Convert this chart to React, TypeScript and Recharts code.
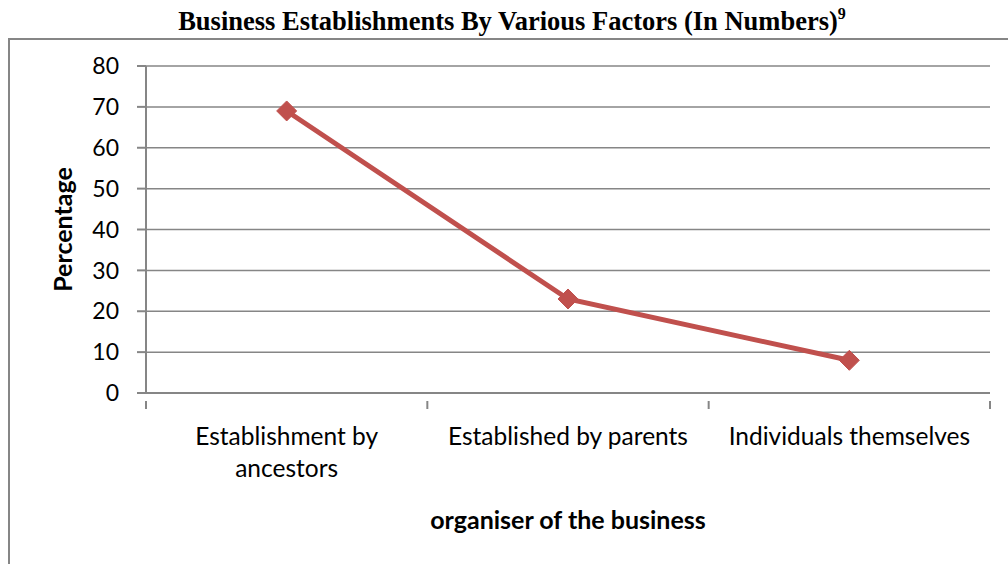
import React from 'react';
import { LineChart, Line, XAxis, YAxis, CartesianGrid } from 'recharts';

const categories = ['Establishment by ancestors', 'Established by parents', 'Individuals themselves'];
const tickLines = [['Establishment by', 'ancestors'], ['Established by parents'], ['Individuals themselves']];
const percentages = [69, 23, 8];
const yTicks = [0, 10, 20, 30, 40, 50, 60, 70, 80];

const data = categories.map((category, i) => ({ category, value: percentages[i] }));

const FONT = 'Lato, "Open Sans", sans-serif';
const AXIS = '#868686';
const RED = '#C0504D';

const Diamond = (props: any) => {
  const { cx, cy } = props;
  if (cx == null || cy == null) return null;
  const r = 10;
  return (
    <polygon
      points={`${cx},${cy - r} ${cx + r},${cy} ${cx},${cy + r} ${cx - r},${cy}`}
      fill={RED}
      stroke={RED}
      strokeWidth={1}
    />
  );
};

const XTick = (props: any) => {
  const { x, y, payload, index } = props;
  const half = payload.offset || 0;
  const lines = tickLines[index] || [payload.value];
  const last = index === categories.length - 1;
  return (
    <g>
      <line x1={x - half} x2={x - half} y1={y} y2={y + 8} stroke={AXIS} strokeWidth={2} />
      {last && <line x1={x + half} x2={x + half} y1={y} y2={y + 8} stroke={AXIS} strokeWidth={2} />}
      <text x={x} y={y + 44} textAnchor="middle" fill="#000" fontSize={24.5} fontFamily={FONT}>
        {lines.map((t, i) => (
          <tspan key={i} x={x} dy={i === 0 ? 0 : 32}>
            {t}
          </tspan>
        ))}
      </text>
    </g>
  );
};

const YLabel = (props: any) => {
  const { viewBox } = props;
  const cy = viewBox.y + viewBox.height / 2;
  const cx = 62;
  return (
    <text
      x={cx}
      y={cy}
      transform={`rotate(-90, ${cx}, ${cy})`}
      textAnchor="middle"
      dominantBaseline="central"
      fontSize={25}
      fontWeight="bold"
      fontFamily={FONT}
      fill="#000"
    >
      Percentage
    </text>
  );
};

export default function App() {
  return (
    <div style={{ position: 'absolute', left: 0, top: 0, width: 1008, height: 564, background: '#fff' }}>
      <div
        style={{
          position: 'absolute',
          left: 0,
          right: 0,
          top: 5,
          textAlign: 'center',
          fontFamily: '"Liberation Serif", "Times New Roman", serif',
          fontWeight: 'bold',
          fontSize: 26.5,
          lineHeight: '32px',
          color: '#000',
          whiteSpace: 'nowrap',
        }}
      >
        <span style={{ position: 'relative', left: 8 }}>
          Business Establishments By Various Factors (In Numbers)
          <sup style={{ fontSize: 16, verticalAlign: 'top', position: 'relative', top: -7 }}>9</sup>
        </span>
      </div>
      <div
        style={{
          position: 'absolute',
          left: 8,
          top: 38,
          width: 1000,
          height: 526,
          borderLeft: `2px solid ${AXIS}`,
          borderTop: `2px solid ${AXIS}`,
          boxSizing: 'border-box',
        }}
      />
      <div style={{ position: 'absolute', left: 0, top: 0 }}>
        <LineChart width={1008} height={564} data={data} margin={{ top: 66, right: 18, left: 20, bottom: 0 }}>
          <CartesianGrid vertical={false} stroke={AXIS} strokeWidth={1.5} />
          <XAxis
            dataKey="category"
            scale="band"
            height={171}
            stroke={AXIS}
            strokeWidth={2}
            tickLine={false}
            tick={<XTick />}
            interval={0}
            label={{
              value: 'organiser of the business',
              position: 'insideBottom',
              offset: 35,
              fill: '#000',
              fontSize: 25,
              fontWeight: 'bold',
              fontFamily: FONT,
            }}
          />
          <YAxis
            width={126}
            domain={[0, 80]}
            ticks={yTicks}
            interval={0}
            stroke={AXIS}
            strokeWidth={2}
            tickSize={9}
            tickMargin={18}
            tick={{ fill: '#000', fontSize: 23, fontFamily: FONT }}
            label={<YLabel />}
          />
          <Line
            type="linear"
            dataKey="value"
            stroke={RED}
            strokeWidth={5}
            dot={<Diamond />}
            activeDot={false}
            isAnimationActive={false}
          />
        </LineChart>
      </div>
    </div>
  );
}
